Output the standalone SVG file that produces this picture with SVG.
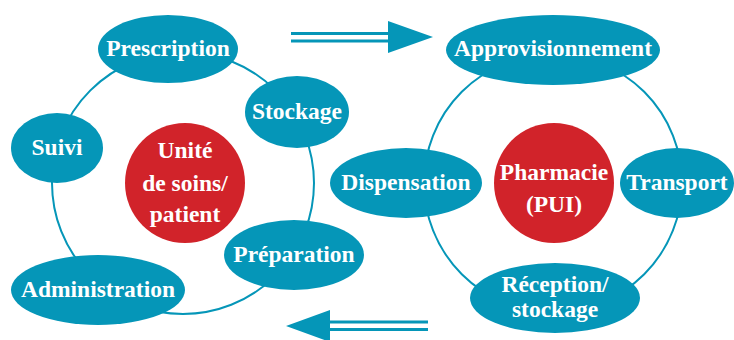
<svg xmlns="http://www.w3.org/2000/svg" width="734" height="340" viewBox="0 0 734 340">
<style>
.ring{fill:none;stroke:#0596b8;stroke-width:2}
.n{fill:#0596b8}
.c{fill:#d1232a}
.t{fill:#fff;font-family:"Liberation Serif",serif;font-weight:bold;font-size:23.5px;text-anchor:middle}
.a{fill:#0596b8}
</style>
<rect width="734" height="340" fill="#fff"/>
<g id="connectors">
<circle class="ring" cx="183" cy="183" r="131"/>
<circle class="ring" cx="553" cy="183" r="129"/>
<rect class="a" x="291" y="32" width="98" height="3"/>
<rect class="a" x="291" y="39.5" width="98" height="3"/>
<polygon class="a" points="388,21 433,37 388,53"/>
<rect class="a" x="329" y="320.5" width="99" height="3"/>
<rect class="a" x="329" y="328" width="99" height="3"/>
<polygon class="a" points="330,310 286,326 330,342"/>
</g>
<g id="unite"><circle class="c" cx="185" cy="183" r="60"/><text class="t" x="185" y="158">Unité</text><text class="t" x="185" y="191">de soins/</text><text class="t" x="185" y="222">patient</text></g>
<g id="prescription"><ellipse class="n" cx="168" cy="49" rx="70" ry="34"/><text class="t" x="168" y="56">Prescription</text></g>
<g id="stockage"><ellipse class="n" cx="297" cy="112" rx="52" ry="36"/><text class="t" x="297" y="119">Stockage</text></g>
<g id="suivi"><ellipse class="n" cx="57" cy="148" rx="46" ry="35"/><text class="t" x="57" y="155">Suivi</text></g>
<g id="preparation"><ellipse class="n" cx="294" cy="255" rx="70" ry="35"/><text class="t" x="294" y="262">Préparation</text></g>
<g id="administration"><ellipse class="n" cx="98" cy="290" rx="87" ry="35"/><text class="t" x="98" y="297">Administration</text></g>
<g id="pharmacie"><circle class="c" cx="554" cy="183" r="60"/><text class="t" x="554" y="180">Pharmacie</text><text class="t" x="554" y="212">(PUI)</text></g>
<g id="approvisionnement"><ellipse class="n" cx="553" cy="50" rx="107" ry="35"/><text class="t" x="553" y="56">Approvisionnement</text></g>
<g id="dispensation"><ellipse class="n" cx="406" cy="183" rx="76" ry="35"/><text class="t" x="406" y="190">Dispensation</text></g>
<g id="transport"><ellipse class="n" cx="677" cy="183" rx="57" ry="35"/><text class="t" x="677" y="190">Transport</text></g>
<g id="reception"><ellipse class="n" cx="555" cy="298" rx="85" ry="35"/><text class="t" x="555" y="292">Réception/</text><text class="t" x="555" y="317">stockage</text></g>
</svg>
